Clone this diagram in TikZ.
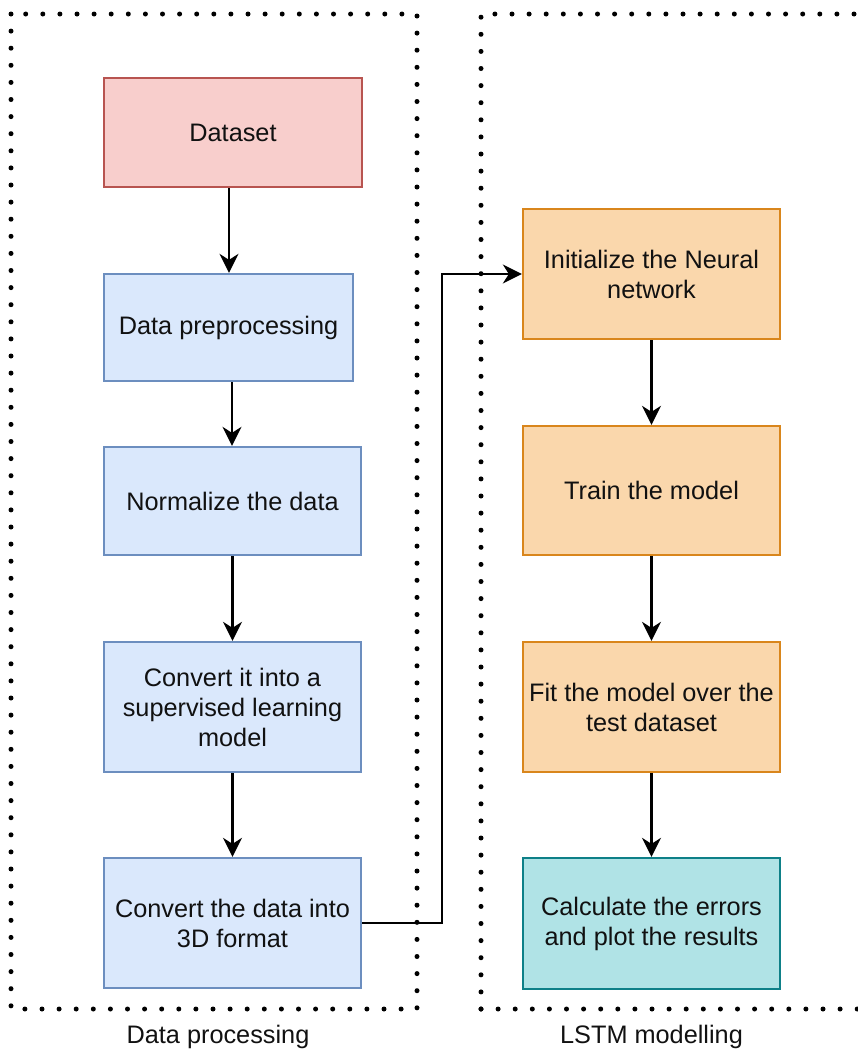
\documentclass[tikz,border=0pt]{standalone}
\usepackage{fontspec}
\setmainfont{Liberation Sans}
\usetikzlibrary{arrows.meta}
\definecolor{redfill}{HTML}{F8CECC}
\definecolor{redline}{HTML}{B85450}
\definecolor{bluefill}{HTML}{DAE8FC}
\definecolor{blueline}{HTML}{6C8EBF}
\definecolor{orfill}{HTML}{FAD7AC}
\definecolor{orline}{HTML}{D9861C}
\definecolor{tealfill}{HTML}{B0E3E6}
\definecolor{tealline}{HTML}{0E8088}
\definecolor{txt}{HTML}{111111}
\tikzset{
  box/.style={draw, line width=2.3pt, rectangle, inner sep=0pt, align=center,
    font=\fontsize{25.3}{30}\selectfont, text=txt},
  redbox/.style={box, fill=redfill, draw=redline},
  bluebox/.style={box, fill=bluefill, draw=blueline},
  orbox/.style={box, fill=orfill, draw=orline},
  tealbox/.style={box, fill=tealfill, draw=tealline},
  conn/.style={line width=2.4pt, -{Stealth[length=19pt,width=19pt,inset=6pt]}},
  dotline/.style={line width=5pt, line cap=round, dash pattern=on 0pt off 17.1pt},
  grouplabel/.style={font=\fontsize{25.3}{30}\selectfont, text=txt, inner sep=0pt}
}
\begin{document}
\begin{tikzpicture}[x=1pt,y=-1pt]
\useasboundingbox (0,0) rectangle (858,1050);
\begin{scope}
\clip (0,0) rectangle (858,1050);
\draw[dotline] (11,14) rectangle (417,1009);
\draw[dotline] (481,1009) -- (481,14) -- (875,14);
\draw[dotline] (481,1009) -- (875,1009);
\end{scope}

\node[redbox, minimum width=258pt, minimum height=109pt] (ds) at (233,132.5) {Dataset};
\node[bluebox, minimum width=249pt, minimum height=107pt] (pre) at (228.5,327.5) {Data preprocessing};
\node[bluebox, minimum width=257pt, minimum height=108pt] (norm) at (232.5,501) {Normalize the data};
\node[bluebox, minimum width=257pt, minimum height=130pt] (conv) at (232.5,707) {Convert it into a\\supervised learning\\model};
\node[bluebox, minimum width=257pt, minimum height=130pt] (d3) at (232.5,923) {Convert the data into\\3D format};

\node[orbox, minimum width=257pt, minimum height=130pt] (init) at (651.5,274) {Initialize the Neural\\network};
\node[orbox, minimum width=257pt, minimum height=129pt] (train) at (651.5,490.5) {Train the model};
\node[orbox, minimum width=257pt, minimum height=130pt] (fit) at (651.5,707) {Fit the model over the\\test dataset};
\node[tealbox, minimum width=257pt, minimum height=131pt] (calc) at (651.5,923.5) {Calculate the errors\\and plot the results};

\node[grouplabel] (lab1) at (218,1037) {Data processing};
\node[grouplabel] (lab2) at (651.5,1037) {LSTM modelling};

\draw[conn] (ds.south -| 229,0) -- (pre.north -| 229,0);
\draw[conn] (pre.south -| 232,0) -- (norm.north -| 232,0);
\draw[conn] (norm) -- (conv);
\draw[conn] (conv) -- (d3);
\coordinate (bend) at (442,274);
\draw[conn] (d3.east) -| (bend) -- (init.west);
\draw[conn] (init) -- (train);
\draw[conn] (train) -- (fit);
\draw[conn] (fit) -- (calc);
\end{tikzpicture}
\end{document}
